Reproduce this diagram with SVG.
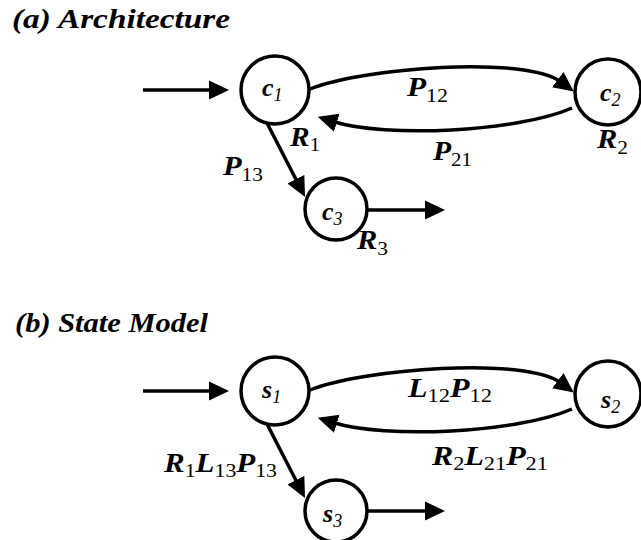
<svg xmlns="http://www.w3.org/2000/svg" width="641" height="540" viewBox="0 0 641 540">
<style>
.title{font-family:"Liberation Serif",serif;font-style:italic;font-weight:bold;font-size:28px;fill:#000}
.lbl{font-family:"Liberation Serif",serif;font-style:italic;font-weight:bold;font-size:27px;fill:#000}
.sub{font-style:normal;font-weight:normal;font-size:19px}
.nsub{font-style:italic;font-weight:normal;font-size:18px}
.nl{font-family:"Liberation Serif",serif;font-style:italic;font-weight:bold;font-size:26px;fill:#000}
.node circle{fill:#fff;stroke:#000;stroke-width:3.5}
.edge{fill:none;stroke:#000;stroke-width:3.5;marker-end:url(#ah)}
</style>
<defs>
<marker id="ah" markerUnits="userSpaceOnUse" markerWidth="20" markerHeight="20" viewBox="0 -10 20 20" refX="4" refY="0" orient="auto"><path d="M0,-9.5 L20,0 L0,9.5 z" fill="#000"/></marker>
</defs>
<rect width="641" height="540" fill="#fff"/>
<text class="title" x="12" y="28" textLength="218" lengthAdjust="spacingAndGlyphs">(a) Architecture</text>
<text class="title" x="15" y="332" textLength="193" lengthAdjust="spacingAndGlyphs">(b) State Model</text>

<g id="connectors">
<path class="edge" d="M143,90 H213"/>
<path class="edge" d="M310,89 C362,68 525,55 561,82"/>
<path class="edge" d="M572,108 C517,132 385,138 333,121.5"/>
<path class="edge" d="M267,123 L297.7,182.8"/>
<path class="edge" d="M367,210 H429"/>
<path class="edge" d="M143,391 H213"/>
<path class="edge" d="M310,390 C362,369 525,356 561,383"/>
<path class="edge" d="M572,409 C517,433 385,439 333,422.5"/>
<path class="edge" d="M267,424 L297.7,483.8"/>
<path class="edge" d="M367,511 H429"/>
</g>

<g id="edge-labels">
<text class="lbl" x="407" y="96" textLength="41" lengthAdjust="spacingAndGlyphs">P<tspan class="sub" dy="6">12</tspan></text>
<text class="lbl" x="433" y="160" textLength="39" lengthAdjust="spacingAndGlyphs">P<tspan class="sub" dy="6">21</tspan></text>
<text class="lbl" x="223" y="175" textLength="40" lengthAdjust="spacingAndGlyphs">P<tspan class="sub" dy="6">13</tspan></text>
<text class="lbl" x="290" y="146" textLength="30" lengthAdjust="spacingAndGlyphs">R<tspan class="sub" dy="5">1</tspan></text>
<text class="lbl" x="597" y="148" textLength="31" lengthAdjust="spacingAndGlyphs">R<tspan class="sub" dy="6">2</tspan></text>
<text class="lbl" x="357" y="249" textLength="31" lengthAdjust="spacingAndGlyphs">R<tspan class="sub" dy="6">3</tspan></text>
<text class="lbl" x="408" y="397" textLength="84" lengthAdjust="spacingAndGlyphs">L<tspan class="sub" dy="5">12</tspan><tspan dy="-5">P</tspan><tspan class="sub" dy="5">12</tspan></text>
<text class="lbl" x="432" y="465" textLength="116" lengthAdjust="spacingAndGlyphs">R<tspan class="sub" dy="5">2</tspan><tspan dy="-5">L</tspan><tspan class="sub" dy="5">21</tspan><tspan dy="-5">P</tspan><tspan class="sub" dy="5">21</tspan></text>
<text class="lbl" x="164" y="472" textLength="113" lengthAdjust="spacingAndGlyphs">R<tspan class="sub" dy="5">1</tspan><tspan dy="-5">L</tspan><tspan class="sub" dy="5">13</tspan><tspan dy="-5">P</tspan><tspan class="sub" dy="5">13</tspan></text>
</g>

<g id="c1" class="node"><circle cx="275" cy="90" r="34"/><text class="nl" x="262" y="96">c<tspan class="nsub" dy="5">1</tspan></text></g>
<g id="c2" class="node"><circle cx="608" cy="92" r="33"/><text class="nl" x="600" y="101">c<tspan class="nsub" dy="5">2</tspan></text></g>
<g id="c3" class="node"><circle cx="336" cy="209" r="31"/><text class="nl" x="322" y="220">c<tspan class="nsub" dy="5">3</tspan></text></g>
<g id="s1" class="node"><circle cx="275" cy="391" r="34"/><text class="nl" x="262" y="398">s<tspan class="nsub" dy="5">1</tspan></text></g>
<g id="s2" class="node"><circle cx="608" cy="394" r="33"/><text class="nl" x="601" y="408">s<tspan class="nsub" dy="5">2</tspan></text></g>
<g id="s3" class="node"><circle cx="336" cy="511" r="31"/><text class="nl" x="323" y="522">s<tspan class="nsub" dy="5">3</tspan></text></g>
</svg>
